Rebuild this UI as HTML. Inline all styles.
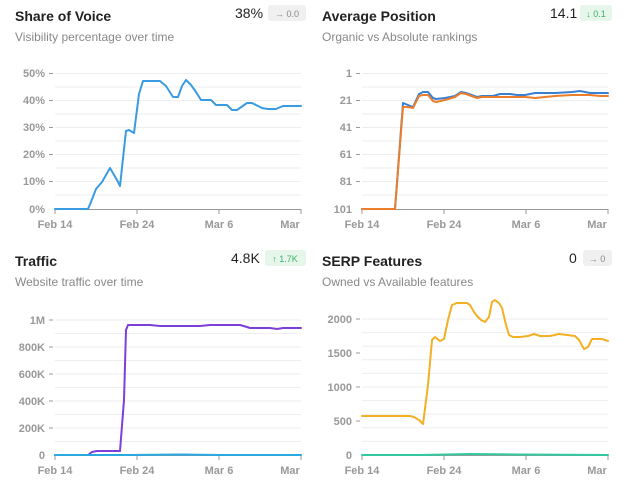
<!DOCTYPE html>
<html><head><meta charset="utf-8"><style>
body{margin:0;background:#fff;font-family:"Liberation Sans",sans-serif;}
svg{display:block}
</style></head><body>
<svg width="637" height="484" xmlns="http://www.w3.org/2000/svg" font-family="Liberation Sans, sans-serif">
<g id="hdr">
<text x="15" y="21" font-size="14" font-weight="bold" fill="#222">Share of Voice</text>
<text x="15" y="41" font-size="12" fill="#888">Visibility percentage over time</text>
<text x="235" y="18" font-size="14" fill="#222">38%</text>
<rect x="268" y="5" width="38" height="16" rx="3" fill="#f0f0f0"/><text x="287" y="17" font-size="9" fill="#888" text-anchor="middle">→ 0.0</text>

<text x="322" y="21" font-size="14" font-weight="bold" fill="#222">Average Position</text>
<text x="322" y="41" font-size="12" fill="#888">Organic vs Absolute rankings</text>
<text x="550" y="18" font-size="14" fill="#222">14.1</text>
<rect x="580" y="5" width="32" height="16" rx="3" fill="#e6f6ea"/><text x="596" y="17" font-size="9" fill="#3bb36a" text-anchor="middle">↓ 0.1</text>

<text x="15" y="266" font-size="14" font-weight="bold" fill="#222">Traffic</text>
<text x="15" y="286" font-size="12" fill="#888">Website traffic over time</text>
<text x="231" y="263" font-size="14" fill="#222">4.8K</text>
<rect x="265" y="250" width="41" height="16" rx="3" fill="#e6f6ea"/><text x="285" y="262" font-size="9" fill="#3bb36a" text-anchor="middle">↑ 1.7K</text>

<text x="322" y="266" font-size="14" font-weight="bold" fill="#222">SERP Features</text>
<text x="322" y="286" font-size="12" fill="#888">Owned vs Available features</text>
<text x="569" y="263" font-size="14" fill="#222">0</text>
<rect x="583" y="250" width="29" height="16" rx="3" fill="#f0f0f0"/><text x="597" y="262" font-size="9" fill="#888" text-anchor="middle">→ 0</text>
</g>
<g stroke="#eee" stroke-width="1">
<path d="M55 73.5H301M55 87H301M55 100.5H301M55 114H301M55 127.5H301M55 141H301M55 154.5H301M55 168H301M55 181.5H301M55 195H301"/>
<path d="M362 73.5H608M362 87H608M362 100.5H608M362 114H608M362 127.5H608M362 141H608M362 154.5H608M362 168H608M362 181.5H608M362 195H608"/>
<path d="M55 320H301M55 333.5H301M55 347H301M55 360.5H301M55 374H301M55 387.5H301M55 401H301M55 414.5H301M55 428H301M55 441.5H301"/>
<path d="M362 319H608M362 332.6H608M362 346.2H608M362 359.8H608M362 373.4H608M362 387H608M362 400.6H608M362 414.2H608M362 427.8H608M362 441.4H608"/>
</g>
<g stroke="#999" stroke-width="1">
<path d="M55 209.5H301M55 209V214M137 209V214M219 209V214M301 209V214"/>
<path d="M49 73.5H53M49 100.5H53M49 127.5H53M49 154.5H53M49 181.5H53"/>
<path d="M362 209.5H608M362 209V214M444 209V214M526 209V214M608 209V214"/>
<path d="M356 73.5H360M356 100.5H360M356 127.5H360M356 154.5H360M356 181.5H360"/>
<path d="M55 455.5H301M55 455V460M137 455V460M219 455V460M301 455V460"/>
<path d="M49 320H53M49 347H53M49 374H53M49 401H53M49 428H53"/>
<path d="M362 455.5H608M362 455V460M444 455V460M526 455V460M608 455V460"/>
<path d="M356 319H360M356 353H360M356 387H360M356 421H360"/>
</g>
<g font-size="11" font-weight="bold" fill="#999" text-anchor="end">
<text x="45" y="77">50%</text><text x="45" y="104">40%</text><text x="45" y="131">30%</text><text x="45" y="158">20%</text><text x="45" y="185">10%</text><text x="45" y="213">0%</text>
<text x="352" y="77">1</text><text x="352" y="104">21</text><text x="352" y="131">41</text><text x="352" y="158">61</text><text x="352" y="185">81</text><text x="352" y="213">101</text>
<text x="45" y="324">1M</text><text x="45" y="351">800K</text><text x="45" y="378">600K</text><text x="45" y="405">400K</text><text x="45" y="432">200K</text><text x="45" y="459">0</text>
<text x="352" y="323">2000</text><text x="352" y="357">1500</text><text x="352" y="391">1000</text><text x="352" y="425">500</text><text x="352" y="459">0</text>
</g>
<g font-size="11" font-weight="bold" fill="#999" text-anchor="middle">
<text x="55" y="228">Feb 14</text><text x="137" y="228">Feb 24</text><text x="219" y="228">Mar 6</text><text x="290" y="228">Mar</text>
<text x="362" y="228">Feb 14</text><text x="444" y="228">Feb 24</text><text x="526" y="228">Mar 6</text><text x="597" y="228">Mar</text>
<text x="55" y="474">Feb 14</text><text x="137" y="474">Feb 24</text><text x="219" y="474">Mar 6</text><text x="290" y="474">Mar</text>
<text x="362" y="474">Feb 14</text><text x="444" y="474">Feb 24</text><text x="526" y="474">Mar 6</text><text x="597" y="474">Mar</text>
</g>
<g fill="none" stroke-width="2" stroke-linejoin="round" stroke-linecap="round">
<polyline stroke="#3b9be0" points="55,209 88,209 91,202 96,189 102,182 110,168 117,180 120,186 126,131 129,130 134,133 139,94 143,81 160,81 166,86 173,97 178,97 182,86 186,80 191,85 196,92 201,100 211,100 216,105 227,105 232,110 237,110 247,103 252,103 262,108 268,109 276,109 283,106 301,106"/>
<polyline stroke="#3b7fd0" points="362,209 395,209 403,103 408,105 413,107 419,94 423,92 428,92 433,98 436,99 445,98 455,96 461,92 466,93 477,97 482,96 493,96 500,94 510,94 517,95 525,95 535,93 555,93 572,92 580,91 590,93 608,93"/>
<polyline stroke="#ec7e2b" points="362,209 395,209 403,107 408,107 413,108 419,96 423,95 428,95 433,101 436,102 445,100 455,97 461,93 466,94 477,98 482,97 493,97 500,97 510,97 517,97 525,97 535,98 555,96 572,95 580,95 590,95 600,96 608,96"/>
<polyline stroke="#7c3fd8" points="55,455 88,455 92,452 97,451 120,451 124,400 126,330 128,325 150,325 160,326 200,326 210,325 240,325 247,327 250,328 270,328 277,329 283,328 301,328"/>
<polyline stroke="#2aa8e0" points="55,455 130,455 180,454.5 220,455 301,455"/>
<polyline stroke="#f3b024" points="362,416 410,416 414,417 419,420 423,424 428,385 432,340 435,337 440,341 444,339 448,320 452,305 457,303 462,303 467,303 470,305 474,312 477,316 481,320 485,322 489,317 492,302 495,300 499,303 502,308 506,325 509,335 513,337 520,337 528,336 534,334 540,336 550,336 559,334 567,335 575,336 579,340 584,349 588,347 592,339 602,339 608,341"/>
<polyline stroke="#33c9a0" points="362,455 420,455 470,454 520,454.5 608,455"/>
</g>
</svg>
</body></html>
